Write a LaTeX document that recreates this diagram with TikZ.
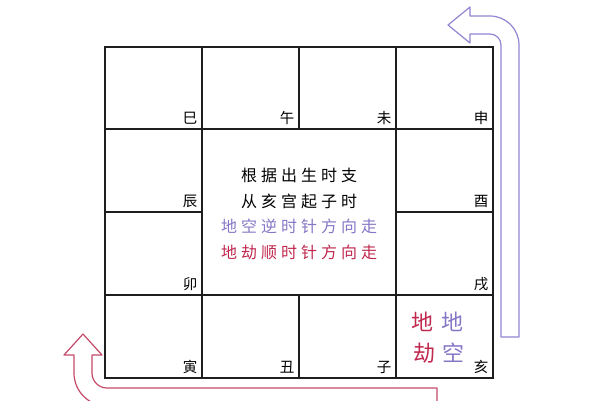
\documentclass[tikz,border=0pt]{standalone}
\usepackage{fontspec}
\newfontfamily\cjk{Noto Sans CJK SC}
\newfontfamily\cjkwide[LetterSpace=25]{Noto Sans CJK SC}
\definecolor{kongc}{HTML}{8676C6}
\definecolor{jiec}{HTML}{C0284E}
\definecolor{kongline}{HTML}{9484D2}
\definecolor{jieline}{HTML}{C44A6A}
\definecolor{gridc}{HTML}{1E1E1E}
\tikzset{
  zhi/.style={inner sep=0pt, font=\cjk\fontsize{14.5}{14.5}\selectfont},
  rule/.style={inner sep=0pt, align=center, font=\cjkwide\fontsize{16}{25.5}\selectfont},
  star/.style={inner sep=0pt, font=\cjk\fontsize{22}{22}\selectfont},
  arrowline/.style={line width=1.2pt, fill=white, line join=round}
}
\begin{document}
\begin{tikzpicture}[x=1pt, y=-1pt]
\useasboundingbox (0,0) rectangle (600,400);
% arrows
\draw[arrowline, draw=kongline] (501,337) -- (501,45) arc[start angle=0, end angle=-90, radius=11]
  -- (470,34) -- (470,43) -- (448,25) -- (470,7) -- (470,16) -- (490,16)
  arc[start angle=-90, end angle=0, radius=29] -- (519,337) -- cycle;
\draw[arrowline, draw=jieline] (437,406) -- (437,388) -- (107,388) arc[start angle=90, end angle=180, radius=15]
  -- (92,355) -- (102,355) -- (83,334) -- (64,355) -- (74,355) -- (74,373)
  arc[start angle=180, end angle=90, radius=33] -- cycle;
% grid
\draw[gridc, line width=1.4pt] (105,47) rectangle (493,378);
\draw[gridc, line width=1.4pt] (202,47)--(202,378) (396,47)--(396,378)
  (105,129)--(493,129) (105,295)--(493,295)
  (299,47)--(299,129) (299,295)--(299,378)
  (105,212)--(202,212) (396,212)--(493,212);
% branches
\node[zhi] (si) at (190,118) {巳};
\node[zhi] (wu) at (287,118) {午};
\node[zhi] (wei) at (384,118) {未};
\node[zhi] (shen) at (481,118) {申};
\node[zhi] (chen) at (190,201) {辰};
\node[zhi] (you) at (481,201) {酉};
\node[zhi] (mao) at (190,284) {卯};
\node[zhi] (xu) at (481,284) {戌};
\node[zhi] (yin) at (190,367) {寅};
\node[zhi] (chou) at (287,367) {丑};
\node[zhi] (zi) at (384,367) {子};
\node[zhi] (hai) at (481,367) {亥};
% middle
\node[rule] (rules) at (299,214) {根据出生时支\\从亥宫起子时\\
  \textcolor{kongc}{地空逆时针方向走}\\\textcolor{jiec}{地劫顺时针方向走}};
\node[star, jiec] (jie1) at (422,322) {地};
\node[star, kongc] (kong1) at (452,322) {地};
\node[star, jiec] (jie2) at (424,353) {劫};
\node[star, kongc] (kong2) at (453,353) {空};
\end{tikzpicture}
\end{document}
